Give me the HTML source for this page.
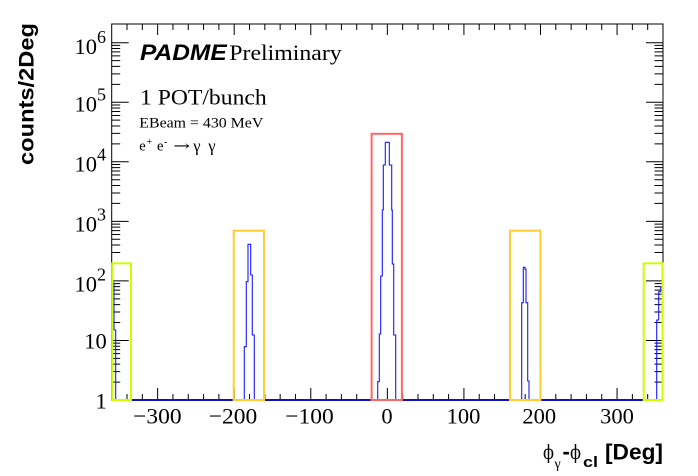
<!DOCTYPE html>
<html>
<head>
<meta charset="utf-8">
<style>
html,body{margin:0;padding:0;background:#fff;}
svg{display:block;}
</style>
</head>
<body>
<svg width="698" height="476" viewBox="0 0 698 476" xmlns="http://www.w3.org/2000/svg">
<rect width="698" height="476" fill="#ffffff"/>

<!-- frame -->
<rect x="111.7" y="24" width="551.3" height="376" fill="none" stroke="#000" stroke-width="1"/>

<!-- x ticks bottom & top -->
<path stroke="#000" stroke-width="1" fill="none" d="
M157.64 400v-12 M234.21 400v-12 M310.78 400v-12 M387.35 400v-12 M463.92 400v-12 M540.49 400v-12 M617.06 400v-12
M127.01 400v-6 M142.33 400v-6 M172.95 400v-6 M188.27 400v-6 M203.58 400v-6 M218.90 400v-6
M249.52 400v-6 M264.84 400v-6 M280.15 400v-6 M295.47 400v-6
M326.09 400v-6 M341.41 400v-6 M356.72 400v-6 M372.04 400v-6
M402.66 400v-6 M417.98 400v-6 M433.29 400v-6 M448.61 400v-6
M479.23 400v-6 M494.55 400v-6 M509.86 400v-6 M525.18 400v-6
M555.80 400v-6 M571.12 400v-6 M586.43 400v-6 M601.75 400v-6
M632.37 400v-6 M647.69 400v-6
M157.64 24v11 M234.21 24v11 M310.78 24v11 M387.35 24v11 M463.92 24v11 M540.49 24v11 M617.06 24v11
M127.01 24v6 M142.33 24v6 M172.95 24v6 M188.27 24v6 M203.58 24v6 M218.90 24v6
M249.52 24v6 M264.84 24v6 M280.15 24v6 M295.47 24v6
M326.09 24v6 M341.41 24v6 M356.72 24v6 M372.04 24v6
M402.66 24v6 M417.98 24v6 M433.29 24v6 M448.61 24v6
M479.23 24v6 M494.55 24v6 M509.86 24v6 M525.18 24v6
M555.80 24v6 M571.12 24v6 M586.43 24v6 M601.75 24v6
M632.37 24v6 M647.69 24v6
"/>

<!-- y ticks left -->
<path stroke="#000" stroke-width="1" fill="none" d="
M111.7 340.45h17 M111.7 280.9h17 M111.7 221.35h17 M111.7 161.8h17 M111.7 102.25h17 M111.7 42.7h17
M111.7 382.07h8.5 M111.7 371.59h8.5 M111.7 364.15h8.5 M111.7 358.38h8.5 M111.7 353.66h8.5 M111.7 349.67h8.5 M111.7 346.22h8.5 M111.7 343.17h8.5
M111.7 322.52h8.5 M111.7 312.04h8.5 M111.7 304.60h8.5 M111.7 298.83h8.5 M111.7 294.11h8.5 M111.7 290.12h8.5 M111.7 286.67h8.5 M111.7 283.62h8.5
M111.7 262.97h8.5 M111.7 252.49h8.5 M111.7 245.05h8.5 M111.7 239.28h8.5 M111.7 234.56h8.5 M111.7 230.57h8.5 M111.7 227.12h8.5 M111.7 224.07h8.5
M111.7 203.42h8.5 M111.7 192.94h8.5 M111.7 185.50h8.5 M111.7 179.73h8.5 M111.7 175.01h8.5 M111.7 171.02h8.5 M111.7 167.57h8.5 M111.7 164.52h8.5
M111.7 143.87h8.5 M111.7 133.39h8.5 M111.7 125.95h8.5 M111.7 120.18h8.5 M111.7 115.46h8.5 M111.7 111.47h8.5 M111.7 108.02h8.5 M111.7 104.97h8.5
M111.7 84.32h8.5 M111.7 73.84h8.5 M111.7 66.40h8.5 M111.7 60.63h8.5 M111.7 55.91h8.5 M111.7 51.92h8.5 M111.7 48.47h8.5 M111.7 45.42h8.5
"/>
<!-- y ticks right -->
<path stroke="#000" stroke-width="1" fill="none" d="
M663 340.45h-17 M663 280.9h-17 M663 221.35h-17 M663 161.8h-17 M663 102.25h-17 M663 42.7h-17
M663 382.07h-8.5 M663 371.59h-8.5 M663 364.15h-8.5 M663 358.38h-8.5 M663 353.66h-8.5 M663 349.67h-8.5 M663 346.22h-8.5 M663 343.17h-8.5
M663 322.52h-8.5 M663 312.04h-8.5 M663 304.60h-8.5 M663 298.83h-8.5 M663 294.11h-8.5 M663 290.12h-8.5 M663 286.67h-8.5 M663 283.62h-8.5
M663 262.97h-8.5 M663 252.49h-8.5 M663 245.05h-8.5 M663 239.28h-8.5 M663 234.56h-8.5 M663 230.57h-8.5 M663 227.12h-8.5 M663 224.07h-8.5
M663 203.42h-8.5 M663 192.94h-8.5 M663 185.50h-8.5 M663 179.73h-8.5 M663 175.01h-8.5 M663 171.02h-8.5 M663 167.57h-8.5 M663 164.52h-8.5
M663 143.87h-8.5 M663 133.39h-8.5 M663 125.95h-8.5 M663 120.18h-8.5 M663 115.46h-8.5 M663 111.47h-8.5 M663 108.02h-8.5 M663 104.97h-8.5
M663 84.32h-8.5 M663 73.84h-8.5 M663 66.40h-8.5 M663 60.63h-8.5 M663 55.91h-8.5 M663 51.92h-8.5 M663 48.47h-8.5 M663 45.42h-8.5
"/>

<!-- baseline of histogram (navy) -->
<line x1="111.7" y1="400" x2="663" y2="400" stroke="#0a0a80" stroke-width="2"/>

<!-- histogram -->
<path fill="none" stroke="#1a1aff" stroke-width="1.1" d="
M111.7 283 H114 V330 H115.7 V400
H244.3 V346.7 H246.3 V281.7 H248 V244.3 H250.7 V275 H252.3 V335 H254.3 V400
H377.7 V381.7 H379.3 V334 H380.7 V276 H382.3 V210 H383.3 V165 H385.3 V142.3 H389.3 V165 H391.7 V210 H392.3 V264 H393.7 V335 H395.7 V400
H521.7 V302.7 H523.3 V267.3 H525 V269.3 H526 V302.7 H527.7 V381 H529 V400
H656.7 V320 H658.7 V291.7 H660.7 V287 H663
"/>

<!-- boxes -->
<rect x="112.2" y="263.3" width="18.8" height="136.7" fill="none" stroke="#ccff00" stroke-width="2"/>
<rect x="643.7" y="263.3" width="18.8" height="136.7" fill="none" stroke="#ccff00" stroke-width="2"/>
<rect x="233.7" y="230.7" width="30.3" height="169.3" fill="none" stroke="#ffcc33" stroke-width="2"/>
<rect x="510" y="230.7" width="30.4" height="169.3" fill="none" stroke="#ffcc33" stroke-width="2"/>
<rect x="371.6" y="133.8" width="30.3" height="266.2" fill="none" stroke="#ff6666" stroke-width="2"/>

<!-- x tick labels -->
<g font-family="Liberation Serif, serif" font-size="22.5" fill="#000" text-anchor="middle">
<text x="157.4" y="423.3" textLength="48.5" lengthAdjust="spacingAndGlyphs">−300</text>
<text x="233" y="423.3" textLength="48.5" lengthAdjust="spacingAndGlyphs">−200</text>
<text x="309.5" y="423.3" textLength="48.5" lengthAdjust="spacingAndGlyphs">−100</text>
<text x="387" y="423.3">0</text>
<text x="463.5" y="423.3">100</text>
<text x="539.2" y="423.3">200</text>
<text x="617" y="423.3">300</text>
</g>

<!-- y tick labels -->
<g font-family="Liberation Serif, serif" fill="#000">
<text x="97" y="54" font-size="22.5" text-anchor="end">10</text>
<text x="97" y="43" font-size="18">6</text>
<text x="97" y="111.7" font-size="22.5" text-anchor="end">10</text>
<text x="97" y="100.7" font-size="18">5</text>
<text x="97" y="171.7" font-size="22.5" text-anchor="end">10</text>
<text x="97" y="160.7" font-size="18">4</text>
<text x="97" y="231.7" font-size="22.5" text-anchor="end">10</text>
<text x="97" y="220.7" font-size="18">3</text>
<text x="97" y="291.7" font-size="22.5" text-anchor="end">10</text>
<text x="97" y="280.7" font-size="18">2</text>
<text x="106.7" y="348.5" font-size="22.5" text-anchor="end">10</text>
<text x="106.7" y="408.3" font-size="22.5" text-anchor="end">1</text>
</g>

<!-- y axis title -->
<text transform="translate(33.5,165) rotate(-90)" x="0" y="0" font-family="Liberation Sans, sans-serif" font-weight="bold" font-size="21.5" textLength="142" lengthAdjust="spacingAndGlyphs" fill="#000">counts/2Deg</text>

<!-- x axis title -->
<g fill="#000">
<text x="543" y="459" font-family="DejaVu Serif, Liberation Serif, serif" font-size="20" textLength="11" lengthAdjust="spacingAndGlyphs">ϕ</text>
<text x="554.5" y="468" font-family="Liberation Serif, DejaVu Serif, serif" font-size="14">γ</text>
<text x="562.5" y="459" font-family="Liberation Sans, sans-serif" font-weight="bold" font-size="22">-</text>
<text x="570" y="459" font-family="DejaVu Serif, Liberation Serif, serif" font-size="20" textLength="11" lengthAdjust="spacingAndGlyphs">ϕ</text>
<text x="583" y="467" font-family="Liberation Sans, sans-serif" font-weight="bold" font-size="15" textLength="15" lengthAdjust="spacingAndGlyphs">cl</text>
<text x="605" y="459.5" font-family="Liberation Sans, sans-serif" font-weight="bold" font-size="22.5" textLength="58" lengthAdjust="spacingAndGlyphs">[Deg]</text>
</g>

<!-- annotations -->
<g fill="#000">
<text x="140" y="60" font-family="Liberation Sans, sans-serif" font-weight="bold" font-style="italic" font-size="22" textLength="86.7" lengthAdjust="spacingAndGlyphs">PADME</text>
<text x="229.3" y="60" font-family="Liberation Serif, serif" font-size="22" textLength="112.4" lengthAdjust="spacingAndGlyphs">Preliminary</text>
<text x="140" y="104.3" font-family="Liberation Serif, serif" font-size="22" textLength="126.7" lengthAdjust="spacingAndGlyphs">1 POT/bunch</text>
<text x="139.3" y="127.7" font-family="Liberation Serif, serif" font-size="14.5" textLength="124" lengthAdjust="spacingAndGlyphs">EBeam = 430 MeV</text>
<g font-family="Liberation Serif, DejaVu Serif, serif" font-size="14.5">
<text x="139.3" y="150.7">e</text>
<text x="146.5" y="145" font-size="10">+</text>
<text x="157" y="150.7">e</text>
<text x="164" y="145" font-size="10">-</text>
<text x="173.3" y="150.7" font-family="DejaVu Serif, Liberation Serif, serif" font-size="14" textLength="17" lengthAdjust="spacingAndGlyphs">→</text>
<text x="193.3" y="151.5" font-size="16.5">γ</text>
<text x="208.3" y="151.5" font-size="16.5">γ</text>
</g>
</g>
</svg>
</body>
</html>
